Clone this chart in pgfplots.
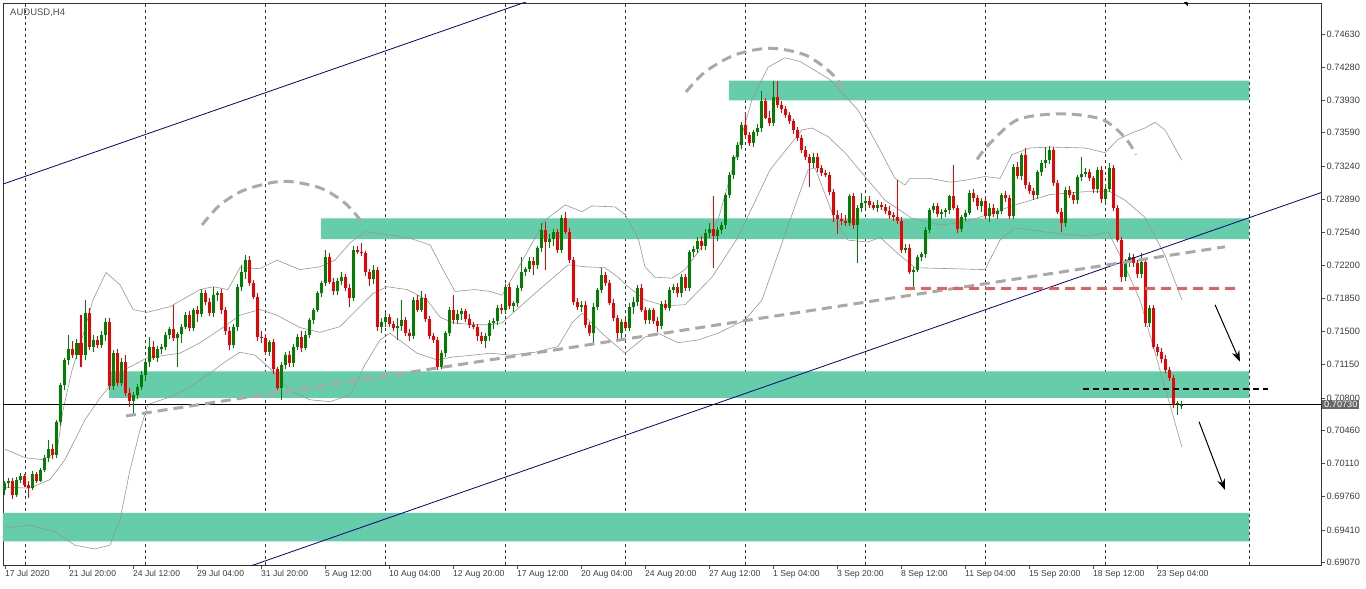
\documentclass[border=0pt]{standalone}
\usepackage{fontspec}
\setmainfont{Liberation Sans}
\usepackage{pgfplots}
\pgfplotsset{compat=1.18}
\usepackage{pgfplotstable}
\usetikzlibrary{arrows.meta}

\definecolor{bull}{RGB}{0,128,0}
\definecolor{bear}{RGB}{240,0,0}
\definecolor{zone}{RGB}{102,205,170}
\definecolor{chan}{RGB}{0,0,128}
\definecolor{band}{RGB}{150,150,150}
\definecolor{hs}{RGB}{169,169,169}
\definecolor{lvl}{RGB}{235,95,95}
\definecolor{axtxt}{RGB}{60,60,60}

% AUDUSD H4 candles: index, open, high, low, close
\pgfplotstableread{
i o h l c
0 0.6983 0.6993 0.6978 0.6990
1 0.6990 0.6996 0.6985 0.6993
2 0.6993 0.6996 0.6974 0.6978
3 0.6978 0.6997 0.6976 0.6994
4 0.6994 0.7001 0.6990 0.6998
5 0.6998 0.7000 0.6986 0.6988
6 0.6988 0.6993 0.6975 0.6985
7 0.6985 0.7003 0.6983 0.7000
8 0.7000 0.7002 0.6990 0.6993
9 0.6993 0.7006 0.6991 0.7004
10 0.7004 0.7020 0.7002 0.7017
11 0.7017 0.7036 0.7013 0.7026
12 0.7026 0.7031 0.7016 0.7020
13 0.7020 0.7057 0.7017 0.7055
14 0.7055 0.7096 0.7050 0.7094
15 0.7094 0.7122 0.7088 0.7120
16 0.7120 0.7146 0.7115 0.7131
17 0.7131 0.7140 0.7122 0.7125
18 0.7125 0.7142 0.7121 0.7138
19 0.7138 0.7167 0.7112 0.7125
20 0.7125 0.7183 0.7120 0.7169
21 0.7169 0.7175 0.7130 0.7134
22 0.7134 0.7146 0.7128 0.7141
23 0.7141 0.7145 0.7133 0.7136
24 0.7136 0.7150 0.7133 0.7146
25 0.7146 0.7164 0.7140 0.7160
26 0.7160 0.7164 0.7088 0.7092
27 0.7092 0.7130 0.7088 0.7127
28 0.7127 0.7131 0.7093 0.7096
29 0.7096 0.7122 0.7093 0.7118
30 0.7118 0.7125 0.7082 0.7085
31 0.7085 0.7090 0.7070 0.7077
32 0.7077 0.7086 0.7064 0.7083
33 0.7083 0.7095 0.7079 0.7091
34 0.7091 0.7108 0.7088 0.7104
35 0.7104 0.7120 0.7098 0.7118
36 0.7118 0.7144 0.7112 0.7134
37 0.7134 0.7140 0.7120 0.7122
38 0.7122 0.7135 0.7118 0.7131
39 0.7131 0.7137 0.7126 0.7134
40 0.7134 0.7149 0.7130 0.7146
41 0.7146 0.7155 0.7142 0.7152
42 0.7152 0.7178 0.7140 0.7143
43 0.7143 0.7149 0.7112 0.7147
44 0.7147 0.7158 0.7138 0.7155
45 0.7155 0.7170 0.7152 0.7167
46 0.7167 0.7171 0.7150 0.7154
47 0.7154 0.7175 0.7150 0.7173
48 0.7173 0.7177 0.7160 0.7168
49 0.7168 0.7195 0.7165 0.7190
50 0.7190 0.7194 0.7178 0.7181
51 0.7181 0.7185 0.7166 0.7169
52 0.7169 0.7197 0.7165 0.7188
53 0.7188 0.7192 0.7182 0.7190
54 0.7190 0.7195 0.7168 0.7172
55 0.7172 0.7176 0.7146 0.7150
56 0.7150 0.7155 0.7130 0.7136
57 0.7136 0.7158 0.7132 0.7155
58 0.7155 0.7200 0.7150 0.7197
59 0.7197 0.7220 0.7193 0.7212
60 0.7212 0.7230 0.7205 0.7225
61 0.7225 0.7229 0.7198 0.7201
62 0.7201 0.7204 0.7184 0.7186
63 0.7186 0.7190 0.7140 0.7144
64 0.7144 0.7150 0.7138 0.7143
65 0.7143 0.7147 0.7125 0.7128
66 0.7128 0.7141 0.7124 0.7139
67 0.7139 0.7142 0.7105 0.7110
68 0.7110 0.7113 0.7088 0.7090
69 0.7090 0.7118 0.7078 0.7115
70 0.7115 0.7128 0.7110 0.7125
71 0.7125 0.7129 0.7113 0.7117
72 0.7117 0.7137 0.7112 0.7134
73 0.7134 0.7147 0.7130 0.7144
74 0.7144 0.7150 0.7128 0.7133
75 0.7133 0.7150 0.7130 0.7146
76 0.7146 0.7164 0.7143 0.7162
77 0.7162 0.7175 0.7158 0.7173
78 0.7173 0.7192 0.7170 0.7190
79 0.7190 0.7203 0.7186 0.7201
80 0.7201 0.7236 0.7198 0.7228
81 0.7228 0.7232 0.7200 0.7202
82 0.7202 0.7206 0.7188 0.7192
83 0.7192 0.7206 0.7188 0.7203
84 0.7203 0.7213 0.7199 0.7207
85 0.7207 0.7210 0.7192 0.7196
86 0.7196 0.7200 0.7176 0.7185
87 0.7185 0.7240 0.7182 0.7236
88 0.7236 0.7240 0.7231 0.7234
89 0.7234 0.7243 0.7229 0.7232
90 0.7232 0.7235 0.7208 0.7212
91 0.7212 0.7216 0.7198 0.7205
92 0.7205 0.7220 0.7200 0.7215
93 0.7215 0.7218 0.7150 0.7155
94 0.7155 0.7164 0.7148 0.7160
95 0.7160 0.7170 0.7155 0.7165
96 0.7165 0.7168 0.7155 0.7158
97 0.7158 0.7161 0.7150 0.7154
98 0.7154 0.7164 0.7141 0.7156
99 0.7156 0.7183 0.7150 0.7162
100 0.7162 0.7165 0.7145 0.7148
101 0.7148 0.7152 0.7140 0.7145
102 0.7145 0.7186 0.7142 0.7183
103 0.7183 0.7188 0.7170 0.7173
104 0.7173 0.7192 0.7170 0.7185
105 0.7185 0.7189 0.7160 0.7163
106 0.7163 0.7166 0.7142 0.7145
107 0.7145 0.7148 0.7138 0.7141
108 0.7141 0.7144 0.7109 0.7113
109 0.7113 0.7130 0.7110 0.7127
110 0.7127 0.7150 0.7123 0.7148
111 0.7148 0.7176 0.7145 0.7173
112 0.7173 0.7188 0.7158 0.7162
113 0.7162 0.7172 0.7158 0.7168
114 0.7168 0.7175 0.7162 0.7171
115 0.7171 0.7174 0.7160 0.7163
116 0.7163 0.7168 0.7154 0.7157
117 0.7157 0.7160 0.7152 0.7155
118 0.7155 0.7158 0.7140 0.7145
119 0.7145 0.7149 0.7137 0.7140
120 0.7140 0.7148 0.7132 0.7145
121 0.7145 0.7162 0.7140 0.7159
122 0.7159 0.7164 0.7152 0.7161
123 0.7161 0.7178 0.7157 0.7175
124 0.7175 0.7179 0.7168 0.7172
125 0.7172 0.7200 0.7168 0.7197
126 0.7197 0.7201 0.7174 0.7177
127 0.7177 0.7182 0.7170 0.7180
128 0.7180 0.7199 0.7176 0.7196
129 0.7196 0.7228 0.7192 0.7212
130 0.7212 0.7218 0.7208 0.7216
131 0.7216 0.7228 0.7212 0.7224
132 0.7224 0.7228 0.7209 0.7220
133 0.7220 0.7240 0.7216 0.7238
134 0.7238 0.7264 0.7234 0.7257
135 0.7257 0.7265 0.7215 0.7244
136 0.7244 0.7252 0.7238 0.7247
137 0.7247 0.7258 0.7240 0.7255
138 0.7255 0.7258 0.7232 0.7236
139 0.7236 0.7272 0.7232 0.7269
140 0.7269 0.7276 0.7252 0.7255
141 0.7255 0.7259 0.7222 0.7225
142 0.7225 0.7228 0.7178 0.7181
143 0.7181 0.7185 0.7172 0.7176
144 0.7176 0.7182 0.7170 0.7178
145 0.7178 0.7182 0.7154 0.7157
146 0.7157 0.7160 0.7145 0.7148
147 0.7148 0.7180 0.7138 0.7176
148 0.7176 0.7196 0.7172 0.7194
149 0.7194 0.7217 0.7190 0.7209
150 0.7209 0.7212 0.7198 0.7201
151 0.7201 0.7204 0.7178 0.7180
152 0.7180 0.7184 0.7161 0.7164
153 0.7164 0.7167 0.7139 0.7148
154 0.7148 0.7163 0.7140 0.7160
155 0.7160 0.7164 0.7150 0.7154
156 0.7154 0.7180 0.7150 0.7176
157 0.7176 0.7186 0.7168 0.7181
158 0.7181 0.7199 0.7177 0.7196
159 0.7196 0.7200 0.7170 0.7173
160 0.7173 0.7176 0.7158 0.7162
161 0.7162 0.7175 0.7158 0.7172
162 0.7172 0.7175 0.7158 0.7161
163 0.7161 0.7165 0.7149 0.7156
164 0.7156 0.7182 0.7152 0.7179
165 0.7179 0.7183 0.7172 0.7175
166 0.7175 0.7197 0.7171 0.7194
167 0.7194 0.7200 0.7190 0.7197
168 0.7197 0.7201 0.7186 0.7190
169 0.7190 0.7210 0.7186 0.7207
170 0.7207 0.7210 0.7193 0.7196
171 0.7196 0.7236 0.7192 0.7234
172 0.7234 0.7240 0.7228 0.7237
173 0.7237 0.7249 0.7232 0.7245
174 0.7245 0.7250 0.7236 0.7240
175 0.7240 0.7258 0.7236 0.7254
176 0.7254 0.7264 0.7248 0.7258
177 0.7258 0.7292 0.7217 0.7250
178 0.7250 0.7260 0.7245 0.7257
179 0.7257 0.7265 0.7252 0.7262
180 0.7262 0.7296 0.7258 0.7294
181 0.7294 0.7318 0.7290 0.7315
182 0.7315 0.7336 0.7310 0.7334
183 0.7334 0.7349 0.7330 0.7346
184 0.7346 0.7370 0.7342 0.7367
185 0.7367 0.7381 0.7354 0.7357
186 0.7357 0.7360 0.7345 0.7348
187 0.7348 0.7362 0.7344 0.7360
188 0.7360 0.7368 0.7356 0.7364
189 0.7364 0.7403 0.7360 0.7392
190 0.7392 0.7396 0.7373 0.7375
191 0.7375 0.7382 0.7366 0.7369
192 0.7369 0.7413 0.7366 0.7397
193 0.7397 0.7413 0.7385 0.7388
194 0.7388 0.7392 0.7380 0.7384
195 0.7384 0.7387 0.7375 0.7378
196 0.7378 0.7381 0.7368 0.7371
197 0.7371 0.7374 0.7358 0.7362
198 0.7362 0.7365 0.7350 0.7354
199 0.7354 0.7357 0.7338 0.7341
200 0.7341 0.7345 0.7330 0.7334
201 0.7334 0.7337 0.7302 0.7327
202 0.7327 0.7338 0.7322 0.7334
203 0.7334 0.7338 0.7318 0.7322
204 0.7322 0.7325 0.7313 0.7317
205 0.7317 0.7320 0.7312 0.7315
206 0.7315 0.7318 0.7294 0.7297
207 0.7297 0.7300 0.7265 0.7272
208 0.7272 0.7278 0.7252 0.7268
209 0.7268 0.7275 0.7262 0.7266
210 0.7266 0.7272 0.7261 0.7264
211 0.7264 0.7295 0.7261 0.7292
212 0.7292 0.7296 0.7258 0.7262
213 0.7262 0.7283 0.7222 0.7280
214 0.7280 0.7296 0.7276 0.7285
215 0.7285 0.7292 0.7280 0.7287
216 0.7287 0.7292 0.7280 0.7283
217 0.7283 0.7286 0.7278 0.7280
218 0.7280 0.7288 0.7276 0.7283
219 0.7283 0.7286 0.7278 0.7281
220 0.7281 0.7284 0.7274 0.7277
221 0.7277 0.7282 0.7268 0.7272
222 0.7272 0.7276 0.7266 0.7270
223 0.7270 0.7309 0.7263 0.7266
224 0.7266 0.7270 0.7232 0.7236
225 0.7236 0.7242 0.7232 0.7238
226 0.7238 0.7242 0.7210 0.7213
227 0.7213 0.7218 0.7194 0.7215
228 0.7215 0.7230 0.7212 0.7228
229 0.7228 0.7234 0.7224 0.7231
230 0.7231 0.7260 0.7227 0.7257
231 0.7257 0.7280 0.7253 0.7278
232 0.7278 0.7285 0.7275 0.7282
233 0.7282 0.7285 0.7270 0.7273
234 0.7273 0.7279 0.7268 0.7276
235 0.7276 0.7280 0.7270 0.7278
236 0.7278 0.7294 0.7274 0.7292
237 0.7292 0.7325 0.7278 0.7280
238 0.7280 0.7283 0.7254 0.7258
239 0.7258 0.7272 0.7255 0.7270
240 0.7270 0.7278 0.7266 0.7275
241 0.7275 0.7299 0.7272 0.7296
242 0.7296 0.7300 0.7286 0.7290
243 0.7290 0.7293 0.7278 0.7282
244 0.7282 0.7290 0.7276 0.7287
245 0.7287 0.7290 0.7268 0.7271
246 0.7271 0.7285 0.7265 0.7280
247 0.7280 0.7284 0.7270 0.7274
248 0.7274 0.7280 0.7268 0.7277
249 0.7277 0.7296 0.7273 0.7294
250 0.7294 0.7298 0.7286 0.7290
251 0.7290 0.7293 0.7268 0.7271
252 0.7271 0.7326 0.7268 0.7323
253 0.7323 0.7328 0.7310 0.7313
254 0.7313 0.7338 0.7309 0.7336
255 0.7336 0.7343 0.7300 0.7304
256 0.7304 0.7307 0.7295 0.7298
257 0.7298 0.7301 0.7288 0.7293
258 0.7293 0.7320 0.7289 0.7318
259 0.7318 0.7330 0.7314 0.7327
260 0.7327 0.7344 0.7322 0.7330
261 0.7330 0.7345 0.7326 0.7341
262 0.7341 0.7344 0.7303 0.7306
263 0.7306 0.7309 0.7273 0.7276
264 0.7276 0.7280 0.7255 0.7264
265 0.7264 0.7302 0.7260 0.7299
266 0.7299 0.7303 0.7290 0.7294
267 0.7294 0.7297 0.7284 0.7288
268 0.7288 0.7315 0.7284 0.7312
269 0.7312 0.7334 0.7308 0.7316
270 0.7316 0.7322 0.7312 0.7318
271 0.7318 0.7321 0.7308 0.7311
272 0.7311 0.7314 0.7296 0.7300
273 0.7300 0.7323 0.7296 0.7320
274 0.7320 0.7324 0.7285 0.7289
275 0.7289 0.7305 0.7285 0.7300
276 0.7300 0.7327 0.7297 0.7322
277 0.7322 0.7325 0.7277 0.7280
278 0.7280 0.7283 0.7244 0.7246
279 0.7246 0.7249 0.7202 0.7207
280 0.7207 0.7226 0.7203 0.7223
281 0.7223 0.7232 0.7218 0.7228
282 0.7228 0.7231 0.7218 0.7222
283 0.7222 0.7225 0.7206 0.7210
284 0.7210 0.7232 0.7206 0.7223
285 0.7223 0.7227 0.7155 0.7159
286 0.7159 0.7178 0.7155 0.7175
287 0.7175 0.7178 0.7131 0.7134
288 0.7134 0.7137 0.7124 0.7128
289 0.7128 0.7133 0.7117 0.7121
290 0.7121 0.7125 0.7106 0.7109
291 0.7109 0.7112 0.7098 0.7101
292 0.7101 0.7104 0.7069 0.7074
293 0.7074 0.7077 0.7062 0.7075
294 0.7071 0.7077 0.7068 0.7073
}\candles

\begin{document}
\begin{tikzpicture}
\begin{axis}[
  scale only axis, width=1318pt, height=562pt,
  xmin=-0.5, xmax=329, ymin=0.69041, ymax=0.74956,
  axis line style={black!80, line width=0.8pt},
  tick align=outside, major tick length=4pt,
  tick style={black!70, line width=0.6pt},
  xtick pos=left, ytick pos=right, yticklabel pos=right,
  xtick={0,16,...,288},
  xticklabels={17 Jul 2020, 21 Jul 20:00, 24 Jul 12:00, 29 Jul 04:00, 31 Jul 20:00, 5 Aug 12:00, 10 Aug 04:00, 12 Aug 20:00, 17 Aug 12:00, 20 Aug 04:00, 24 Aug 20:00, 27 Aug 12:00, 1 Sep 04:00, 3 Sep 20:00, 8 Sep 12:00, 11 Sep 04:00, 15 Sep 20:00, 18 Sep 12:00, 23 Sep 04:00},
  xticklabel style={anchor=north west, inner xsep=0pt, inner ysep=1.5pt, text=axtxt, font=\fontsize{8.6}{10}\selectfont},
  ytick={0.6907,0.6941,0.6976,0.7011,0.7046,0.7080,0.7115,0.7150,0.7185,0.7220,0.7254,0.7289,0.7324,0.7359,0.7393,0.7428,0.7463},
  yticklabels={0.69070,0.69410,0.69760,0.70110,0.70460,0.70800,0.71150,0.71500,0.71850,0.72200,0.72540,0.72890,0.73240,0.73590,0.73930,0.74280,0.74630},
  yticklabel style={anchor=west, inner xsep=1.5pt, text=axtxt, font=\fontsize{9.2}{10}\selectfont},
  extra x ticks={5,35,65,95,125,155,185,215,245,275,311},
  extra x tick labels={},
  extra x tick style={grid=major, major tick length=0pt,
    major grid style={black!80, dash pattern=on 3pt off 3pt, line width=0.7pt}},
]
\coordinate (sw) at (rel axis cs:0,0);
\coordinate (ne) at (rel axis cs:1,1);
\coordinate (tl) at (rel axis cs:0,1);
\coordinate (cp) at (axis cs:329,0.7073);

% support / resistance zones
\addplot[fill=zone, draw=none] coordinates {(181,0.7393) (311,0.7393) (311,0.7414) (181,0.7414) (181,0.7393)};
\addplot[fill=zone, draw=none] coordinates {(79,0.7247) (311,0.7247) (311,0.7269) (79,0.7269) (79,0.7247)};
\addplot[fill=zone, draw=none] coordinates {(26,0.7080) (311,0.7080) (311,0.7108) (26,0.7108) (26,0.7080)};
\addplot[fill=zone, draw=none] coordinates {(-0.5,0.6929) (311,0.6929) (311,0.6959) (-0.5,0.6959) (-0.5,0.6929)};

% Bollinger bands
\addplot[band, line width=0.6pt] coordinates {
(0,0.7026) (5,0.7017) (9.25,0.7015) (13,0.7023) (14.5,0.7067) (16.75,0.7109)
(19.5,0.7146) (22,0.7183) (25.25,0.7212) (28.75,0.7199) (32,0.7173) (35.5,0.7170)
(41.25,0.7176) (48.75,0.7194) (52,0.7197) (55.75,0.7194) (58.75,0.7217) (63.75,0.7216)
(68,0.7225) (73.75,0.7215) (78.75,0.7218) (82.5,0.7225) (86.25,0.7243) (90,0.7255)
(95.5,0.7252) (101.25,0.7248) (106.25,0.7241) (109.5,0.7215) (112.5,0.7192) (117.5,0.7194)
(121.25,0.7192) (124.25,0.7188) (128.75,0.7220) (135,0.7267) (140,0.7283) (144.25,0.7276)
(146.75,0.7282) (152.5,0.7281) (155,0.7273) (158.25,0.7249) (160,0.7218) (162.5,0.7207)
(166.75,0.7206) (170,0.7215) (173.75,0.7236) (178.25,0.7267) (182.5,0.7331) (186.75,0.7394)
(190.75,0.7428) (195,0.7438) (198.75,0.7434) (206.25,0.7415) (213.25,0.7383) (218.75,0.7341)
(222.5,0.7311) (225,0.7304) (226.25,0.7311) (231.25,0.7311) (236.25,0.7307) (240,0.7309)
(245,0.7313) (248.75,0.7311) (251.75,0.7336) (256.25,0.7343) (261.25,0.7344) (270,0.7343)
(275,0.7338) (278.25,0.7352) (281.75,0.7359) (285,0.7364) (287.5,0.7370) (290,0.7362)
(294.25,0.7330)};
\addplot[band, line width=0.6pt] coordinates {
(0,0.6986) (6.25,0.6985) (11.25,0.6994) (15,0.7015) (20,0.7057) (23.75,0.7080)
(27.5,0.7099) (30.5,0.7111) (35.5,0.7122) (43.75,0.7127) (48.75,0.7138) (53.75,0.7152)
(58.75,0.7167) (63.75,0.7173) (68,0.7167) (73.75,0.7154) (78.75,0.7149) (83.75,0.7155)
(88,0.7173) (92,0.7190) (95.5,0.7197) (100.5,0.7194) (105.5,0.7183) (108.75,0.7165)
(112,0.7159) (117,0.7157) (121.25,0.7157) (124.25,0.7159) (132.5,0.7190) (140.75,0.7220)
(145,0.7218) (150,0.7217) (153.25,0.7207) (155.75,0.7197) (160,0.7183) (165,0.7177)
(170,0.7178) (176.75,0.7207) (183.25,0.7249) (191.25,0.7320) (199.25,0.7362) (201.75,0.7364)
(205.75,0.7355) (210,0.7338) (215,0.7313) (220,0.7288) (226.75,0.7269) (233.75,0.7262)
(240,0.7265) (245,0.7272) (252.5,0.7283) (261.25,0.7294) (270,0.7297) (276.25,0.7297)
(280,0.7288) (285,0.7270) (290,0.7230) (294.25,0.7183)};
\addplot[band, line width=0.6pt] coordinates {
(0,0.6943) (6.25,0.6946) (12.5,0.6939) (17.5,0.6925) (22.5,0.6921) (26.25,0.6925)
(28.75,0.6952) (31.25,0.7004) (33.75,0.7046) (35.75,0.7073) (41.25,0.7081) (46.25,0.7091)
(51.25,0.7106) (55,0.7118) (58.75,0.7128) (62.5,0.7125) (66.25,0.7111) (71.25,0.7088)
(76.25,0.7078) (81.25,0.7076) (86.25,0.7083) (90,0.7115) (93.75,0.7141) (96.25,0.7148)
(99.5,0.7138) (103,0.7127) (108,0.7120) (112,0.7123) (117,0.7125) (121.25,0.7127)
(126.25,0.7125) (132.5,0.7128) (138.25,0.7134) (141.75,0.7159) (144.25,0.7169) (149.25,0.7148)
(155,0.7127) (160,0.7144) (163.25,0.7148) (168.25,0.7138) (173.25,0.7141) (178.25,0.7148)
(185,0.7162) (189.25,0.7183) (196.25,0.7267) (200.75,0.7320) (202.5,0.7322) (207.5,0.7267)
(210.75,0.7246) (215.75,0.7244) (218.75,0.7249) (223.75,0.7230) (227.5,0.7217) (245,0.7215)
(248.75,0.7246) (252.5,0.7259) (261.25,0.7254) (270.75,0.7250) (275.75,0.7255) (278.75,0.7230)
(283.75,0.7183) (288.75,0.7109) (294.25,0.7028)};

% last price line
\addplot[black, line width=0.8pt] coordinates {(-0.5,0.7073) (329,0.7073)};

% candles: wicks then bodies
\addplot[draw=none, mark=none, restrict expr to domain={\thisrow{c}-\thisrow{o}}{0:1},
  error bars/.cd, y dir=plus, y explicit, error mark=none,
  error bar style={draw=bull, line width=1pt}]
  table[x=i, y=l, y error expr={\thisrow{h}-\thisrow{l}}] {\candles};
\addplot[draw=none, mark=none, restrict expr to domain={\thisrow{c}-\thisrow{o}}{-1:-0.00001},
  error bars/.cd, y dir=plus, y explicit, error mark=none,
  error bar style={draw=bear, line width=1pt}]
  table[x=i, y=l, y error expr={\thisrow{h}-\thisrow{l}}] {\candles};
\addplot[draw=none, mark=none, restrict expr to domain={\thisrow{c}-\thisrow{o}}{0:1},
  error bars/.cd, y dir=plus, y explicit, error mark=none,
  error bar style={draw=bull, line width=3pt, line cap=butt}]
  table[x=i, y expr={min(\thisrow{o},\thisrow{c})}, y error expr={max(abs(\thisrow{c}-\thisrow{o}),0.00008)}] {\candles};
\addplot[draw=none, mark=none, restrict expr to domain={\thisrow{c}-\thisrow{o}}{-1:-0.00001},
  error bars/.cd, y dir=plus, y explicit, error mark=none,
  error bar style={draw=bear, line width=3pt, line cap=butt}]
  table[x=i, y expr={min(\thisrow{o},\thisrow{c})}, y error expr={max(abs(\thisrow{c}-\thisrow{o}),0.00008)}] {\candles};

% channel lines
\addplot[chan, line width=0.8pt] coordinates {(-0.5,0.7305) (140,0.7511)};
\addplot[chan, line width=0.8pt] coordinates {(60,0.6901) (329,0.7296)};

% trend line and head-and-shoulders arcs
\addplot[hs, line width=3pt, dash pattern=on 10pt off 6pt] coordinates {(30.25,0.7061) (305,0.7239)};
\addplot[hs, line width=3pt, dash pattern=on 10pt off 6pt, smooth] coordinates {
(49.25,0.7262) (53.75,0.7283) (60,0.7299) (69.5,0.7308) (78.75,0.7301) (85,0.7285) (89.25,0.7265)};
\addplot[hs, line width=3pt, dash pattern=on 10pt off 6pt, smooth] coordinates {
(170.25,0.7402) (175,0.7423) (182.5,0.7441) (191.25,0.7448) (200,0.7441) (206.25,0.7423) (210,0.7404)};
\addplot[hs, line width=3pt, dash pattern=on 10pt off 6pt, smooth] coordinates {
(243,0.7331) (246.25,0.7348) (253.25,0.7373) (264.25,0.7379) (274.25,0.7373) (280,0.7354) (282.75,0.7336)};

% levels
\addplot[lvl, line width=3pt, dash pattern=on 10pt off 6pt] coordinates {(225,0.7195) (308.75,0.7195)};
\addplot[black, line width=2pt, dash pattern=on 6pt off 4pt] coordinates {(269.5,0.7089) (315.75,0.7089)};

% arrows
\addplot[black, line width=1pt, -{Stealth[length=11pt,width=8pt]}] coordinates {(302.5,0.7178) (308.75,0.7118)};
\addplot[black, line width=1pt, -{Stealth[length=11pt,width=8pt]}] coordinates {(298.5,0.7055) (305,0.6983)};
\addplot[black, line width=1pt, -{Stealth[length=11pt,width=8pt]}] coordinates {(293.5,0.7512) (295.75,0.7492)};
\end{axis}
\node[anchor=west, inner sep=0pt, font=\fontsize{9.5}{10}\selectfont, text=black!70] at ([shift={(7pt,-10pt)}]tl) {AUDUSD,H4};
\node[anchor=west, fill=black!60, text=white, inner xsep=2pt, inner ysep=1pt, font=\fontsize{9.2}{10}\selectfont] at ([shift={(1pt,0pt)}]cp) {0.70730};
\path ([shift={(-3pt,-23pt)}]sw) rectangle ([shift={(45pt,3pt)}]ne);
\end{tikzpicture}
\end{document}
